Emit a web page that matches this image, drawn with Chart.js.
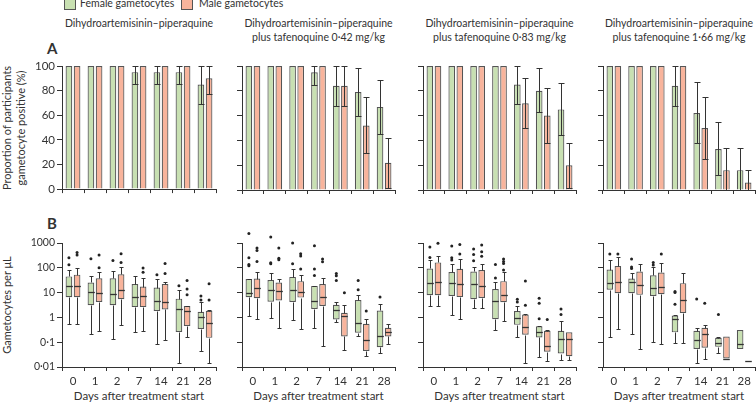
<!DOCTYPE html>
<html>
<head>
<meta charset="utf-8">
<script src="https://cdn.jsdelivr.net/npm/chart.js@4.4.0/dist/chart.umd.min.js"></script>
<style>
  body { margin: 0; width: 756px; height: 403px; overflow: hidden; position: relative; background: #fff; font-family: Lato, sans-serif; color: #333; }
  .pane { position: absolute; }
  .txt { position: absolute; white-space: nowrap; font-size: 10.5px; line-height: 13.5px; text-align: center; }
  .rot { position: absolute; white-space: nowrap; font-size: 11px; line-height: 14px; text-align: center; transform: translate(-50%, -50%) rotate(-90deg); }
  .sw { position: absolute; width: 10px; height: 10px; border: 1px solid #555; }
  .lab { position: absolute; font-weight: bold; font-size: 15px; }
</style>
</head>
<body>

<div class="sw" style="left:64px;top:-2px;background:#c8e0b2"></div>
<div class="txt" style="left:80px;top:-3px;font-size:10.5px;text-align:left">Female gametocytes</div>
<div class="sw" style="left:181px;top:-2px;background:#f8b49c"></div>
<div class="txt" style="left:199px;top:-3px;font-size:10.5px;text-align:left">Male gametocytes</div>

<div class="lab" style="left:47px;top:39px">A</div>
<div class="lab" style="left:47px;top:214px">B</div>

<div class="rot" style="left:14px;top:128px">Proportion of participants<br>gametocyte positive (%)</div>
<div class="rot" style="left:7px;top:305px">Gametocytes per μL</div>

<div id="titles"></div>
<div id="panes"></div>

<script>
// categories and tick labels
const days = ['0', '1', '2', '7', '14', '21', '28'];
const pctTicks = [0, 20, 40, 60, 80, 100];
const logTicks = [0.01, 0.1, 1, 10, 100, 1000];
const logTickText = ['0·01', '0·1', '1', '10', '100', '1000'];
const panelTitles = [
  ['Dihydroartemisinin–piperaquine'],
  ['Dihydroartemisinin–piperaquine', 'plus tafenoquine 0·42 mg/kg'],
  ['Dihydroartemisinin–piperaquine', 'plus tafenoquine 0·83 mg/kg'],
  ['Dihydroartemisinin–piperaquine', 'plus tafenoquine 1·66 mg/kg']
];

// A: proportion positive (%) with 95% CI, one array per panel
const pctFemale1 = [100, 100, 100, 95, 95, 95, 85];
const loFemale1  = [null, null, null, 85, 85, 85, 69];
const hiFemale1  = [null, null, null, 100, 100, 100, 100];
const pctMale1   = [100, 100, 100, 100, 100, 100, 90];
const loMale1    = [null, null, null, null, null, null, 77];
const hiMale1    = [null, null, null, null, null, null, 100];

const pctFemale2 = [100, 100, 100, 95, 84, 79, 67];
const loFemale2  = [null, null, null, 85, 68, 60, 45];
const hiFemale2  = [null, null, null, 100, 100, 98, 89];
const pctMale2   = [100, 100, 100, 100, 84, 52, 22];
const loMale2    = [null, null, null, null, 68, 30, 2];
const hiMale2    = [null, null, null, null, 100, 75, 42];

const pctFemale3 = [100, 100, 100, 100, 85, 80, 65];
const loFemale3  = [null, null, null, null, 69, 63, 44];
const hiFemale3  = [null, null, null, null, 100, 98, 86];
const pctMale3   = [100, 100, 100, 100, 70, 60, 20];
const loMale3    = [null, null, null, null, 50, 38, 2];
const hiMale3    = [null, null, null, null, 90, 82, 38];

const pctFemale4 = [100, 100, 100, 84, 62, 33, 16];
const loFemale4  = [null, null, null, 68, 38, 12, 0];
const hiFemale4  = [null, null, null, 100, 87, 55, 34];
const pctMale4   = [100, 100, 100, 100, 50, 16, 6];
const loMale4    = [null, null, null, null, 25, 0, 0];
const hiMale4    = [null, null, null, null, 75, 34, 16];

// B: gametocytes per uL, [min, q1, median, q3, max] per day, plus outliers
const boxFemale1 = [[0.55, 6.5, 18.6, 45, 78], [0.22, 3.1, 10.6, 25.6, 45], [0.13, 3.1, 8.6, 38, 76], [0.25, 2.6, 6.5, 22, 47], [0.083, 1.8, 4.6, 16, 37], [0.014, 0.26, 2.2, 5.7, 13], [0.046, 0.34, 1.07, 1.7, 4.2]];
const outFemale1 = [[132, 255], [230], [198], [], [52], [19], [5, 7.3]];
const boxMale1   = [[0.53, 6.5, 18, 53, 94], [0.28, 4.2, 9.4, 38, 69], [0.49, 5.4, 13, 55, 107], [0.29, 2.6, 7.6, 17.5, 38], [0.12, 2.1, 4.3, 22, 28], [0.155, 0.45, 1.8, 2.9, 3], [0.015, 0.15, 0.6, 1.85, 1.9]];
const outMale1   = [[326, 417], [100, 326], [165, 370], [66, 98], [59, 150], [8.1, 14, 31], [5, 23]];

const boxFemale2 = [[1.1, 6.5, 9.4, 35, 36], [0.92, 4.3, 12.4, 32, 63], [0.81, 4.2, 13, 43, 91], [0.39, 2.2, 4.8, 18.6, 19], [0.65, 0.83, 1.9, 3.2, 4.2], [0.17, 0.24, 0.59, 5, 7.8], [0.038, 0.063, 0.17, 1.9, 3.6]];
const outFemale2 = [[120, 137, 255, 2400], [145, 158, 1750], [145, 1000], [49, 89, 780], [31, 48, 59], [13, 31], [6.6]];
const boxMale2   = [[0.83, 5.9, 16, 37, 67], [0.39, 4.8, 11.2, 25.6, 34], [0.35, 6.3, 10.6, 29, 53], [0.072, 2.9, 6.9, 22, 38], [0.049, 0.17, 1.13, 1.55, 3.2], [0.027, 0.044, 0.12, 0.55, 0.85], [0.081, 0.17, 0.26, 0.38, 0.52]];
const outMale2   = [[180, 500, 630], [210, 240, 630], [89, 300, 370], [174, 224], [9.8], [1.8], []];

const boxFemale3 = [[2.9, 7.8, 24, 94, 200], [1.3, 7.3, 25.5, 67, 137], [2.5, 5.4, 22, 71, 107], [0.31, 0.85, 4.8, 14, 25.6], [0.16, 0.5, 0.91, 1.8, 2.8], [0.026, 0.155, 0.26, 0.44, 0.46], [0.02, 0.035, 0.13, 0.29, 0.69]];
const outFemale3 = [[262, 690], [205, 255, 750], [192, 340, 575], [39, 137], [4.2, 5.4], [0.89, 3.7, 5.9], [1.3, 2.2]];
const boxMale3   = [[2.95, 7.8, 26, 165, 290], [0.89, 6.6, 22, 91, 218], [2.3, 6.1, 18.6, 81, 137], [0.72, 4.1, 7.8, 29, 65], [0.0145, 0.2, 0.41, 1.3, 1.4], [0.018, 0.041, 0.073, 0.29, 0.32], [0.019, 0.027, 0.14, 0.25, 0.25]];
const outMale3   = [[970], [356, 880], [295, 445, 830], [81, 150, 181, 224], [3.1, 29.5], [0.83], []];

const boxFemale4 = [[0.16, 13, 25.5, 85, 210], [0.22, 9.4, 26, 37, 63], [0.1, 7.3, 16, 50, 107], [0.089, 0.25, 0.85, 1.2, 1.3], [0.014, 0.053, 0.12, 0.29, 0.38], [0.038, 0.065, 0.089, 0.15, 0.155], [0.053, 0.053, 0.081, 0.31, 0.31]];
const outFemale4 = [[356], [94, 107, 224], [130, 165], [3.4, 10, 11], [5.5], [1.3], []];
const boxMale4   = [[0.35, 9.4, 27, 117, 262], [0.054, 8.1, 20, 71, 141], [0.081, 8.6, 17.5, 65, 150], [0.093, 1.5, 4.9, 24, 61], [0.022, 0.06, 0.22, 0.38, 0.5], [0.022, 0.022, 0.022, 0.17, 0.17], [0.017, 0.017, 0.017, 0.017, 0.017]];
const outMale4   = [[356], [], [356], [], [3.7], [], []];

const topPanels = [
  [pctFemale1, loFemale1, hiFemale1, pctMale1, loMale1, hiMale1],
  [pctFemale2, loFemale2, hiFemale2, pctMale2, loMale2, hiMale2],
  [pctFemale3, loFemale3, hiFemale3, pctMale3, loMale3, hiMale3],
  [pctFemale4, loFemale4, hiFemale4, pctMale4, loMale4, hiMale4]
];
const bottomPanels = [
  [boxFemale1, outFemale1, boxMale1, outMale1],
  [boxFemale2, outFemale2, boxMale2, outMale2],
  [boxFemale3, outFemale3, boxMale3, outMale3],
  [boxFemale4, outFemale4, boxMale4, outMale4]
];

const GREEN = '#c8e0b2', SALMON = '#f8b49c', EDGE = '#555', INK = '#333';

// pane geometry
const paneLeft = [0, 212, 393, 573];
const paneWidth = [219, 187, 186, 183];
const axisWidth = [62, 30, 30, 30];
const padRight = [3, 4, 3, 1];

Chart.defaults.font.family = 'Lato';
Chart.defaults.color = INK;
Chart.defaults.animation = false;

const errorBars = {
  id: 'errorBars',
  afterDatasetsDraw(chart) {
    const ctx = chart.ctx, y = chart.scales.y;
    chart.data.datasets.forEach((ds, d) => {
      chart.getDatasetMeta(d).data.forEach((bar, i) => {
        if (ds.lo[i] == null) return;
        const t = Math.round(y.getPixelForValue(ds.hi[i])) + 0.5;
        const b = Math.round(y.getPixelForValue(ds.lo[i])) + 0.5;
        const x = Math.round(bar.x) + 0.5;
        ctx.save();
        ctx.strokeStyle = INK;
        ctx.lineWidth = 1;
        ctx.beginPath();
        ctx.moveTo(x, t); ctx.lineTo(x, b);
        ctx.moveTo(x - 3, t); ctx.lineTo(x + 3, t);
        ctx.moveTo(x - 3, b); ctx.lineTo(x + 3, b);
        ctx.stroke();
        ctx.restore();
      });
    });
  }
};

const whiskers = {
  id: 'whiskers',
  afterDatasetsDraw(chart) {
    const ctx = chart.ctx, y = chart.scales.y;
    chart.data.datasets.forEach((ds, d) => {
      chart.getDatasetMeta(d).data.forEach((bar, i) => {
        const s = ds.stats[i];
        const x = Math.round(bar.x) + 0.5, hw = bar.width / 2, cw = bar.width * 0.3;
        const py = v => Math.round(y.getPixelForValue(v)) + 0.5;
        ctx.save();
        ctx.strokeStyle = INK;
        ctx.lineWidth = 1;
        ctx.beginPath();
        if (s[4] > s[3]) { ctx.moveTo(x, py(s[3])); ctx.lineTo(x, py(s[4])); ctx.moveTo(x - cw, py(s[4])); ctx.lineTo(x + cw, py(s[4])); }
        if (s[0] < s[1]) { ctx.moveTo(x, py(s[1])); ctx.lineTo(x, py(s[0])); ctx.moveTo(x - cw, py(s[0])); ctx.lineTo(x + cw, py(s[0])); }
        ctx.stroke();
        ctx.lineWidth = 1.3;
        ctx.beginPath();
        ctx.moveTo(x - hw, py(s[2])); ctx.lineTo(x + hw, py(s[2]));
        ctx.stroke();
        ctx.fillStyle = '#222';
        ds.outliers[i].forEach(v => {
          ctx.beginPath();
          ctx.arc(bar.x, y.getPixelForValue(v), 1.5, 0, Math.PI * 2);
          ctx.fill();
        });
        ctx.restore();
      });
    });
  }
};

function pane(left, top, width, height) {
  const div = document.createElement('div');
  div.className = 'pane';
  div.style.cssText = `left:${left}px;top:${top}px;width:${width}px;height:${height}px`;
  const c = document.createElement('canvas');
  div.appendChild(c);
  document.getElementById('panes').appendChild(div);
  return c;
}

function xAxis(showLabels, h) {
  return {
    type: 'category',
    offset: true,
    grid: { offset: true, drawOnChartArea: false, drawTicks: true, tickLength: 4, color: INK },
    border: { display: true, color: INK, width: 1 },
    ticks: { display: showLabels, font: { size: 11.5 }, color: INK, padding: 3, maxRotation: 0 },
    afterFit: s => { s.height = h; }
  };
}

function barOpts(p, yScale, xh, pt) {
  return {
    responsive: true,
    maintainAspectRatio: false,
    devicePixelRatio: 1,
    events: [],
    layout: { padding: { top: pt, right: padRight[p], left: 0, bottom: 0 } },
    plugins: { legend: { display: false }, tooltip: { enabled: false } },
    scales: { x: xAxis(xh > 10, xh), y: yScale }
  };
}

// titles
panelTitles.forEach((lines, p) => {
  const cx = paneLeft[p] + axisWidth[p] + (paneWidth[p] - axisWidth[p] - padRight[p]) / 2;
  const d = document.createElement('div');
  d.className = 'txt';
  d.style.cssText = `left:${cx}px;top:17px;transform:translateX(-50%)`;
  d.innerHTML = lines.join('<br>');
  document.getElementById('titles').appendChild(d);

  const xt = document.createElement('div');
  xt.className = 'txt';
  xt.style.cssText = `left:${cx}px;top:389px;transform:translateX(-50%);font-size:11.5px`;
  xt.textContent = 'Days after treatment start';
  document.getElementById('titles').appendChild(xt);
});

// A: bar charts with error bars
topPanels.forEach((arr, p) => {
  const [fv, flo, fhi, mv, mlo, mhi] = arr;
  const canvas = pane(paneLeft[p], 55, paneWidth[p], 143);
  new Chart(canvas, {
    type: 'bar',
    data: {
      labels: days,
      datasets: [
        { data: fv, lo: flo, hi: fhi, backgroundColor: GREEN, borderColor: EDGE, borderWidth: 1.2, categoryPercentage: 0.74, barPercentage: 0.82 },
        { data: mv, lo: mlo, hi: mhi, backgroundColor: SALMON, borderColor: EDGE, borderWidth: 1.2, categoryPercentage: 0.74, barPercentage: 0.82 }
      ]
    },
    options: barOpts(p, {
      min: 0, max: 100,
      grid: { drawOnChartArea: false, drawTicks: true, tickLength: 5, color: INK },
      border: { display: true, color: INK, width: 1 },
      ticks: { display: p === 0, stepSize: 20, font: { size: 11.5 }, color: INK, padding: 2 },
      afterBuildTicks: s => { s.ticks = pctTicks.map(v => ({ value: v })); },
      afterFit: s => { s.width = axisWidth[p]; }
    }, 8, 11),
    plugins: [errorBars]
  });
});

// B: box plots on a log scale
bottomPanels.forEach((arr, p) => {
  const [fb, fo, mb, mo] = arr;
  const canvas = pane(paneLeft[p], 228, paneWidth[p], 175);
  new Chart(canvas, {
    type: 'bar',
    data: {
      labels: days,
      datasets: [
        { data: fb.map(s => [s[1], s[3]]), stats: fb, outliers: fo, backgroundColor: GREEN, borderColor: EDGE, borderWidth: 1.2, borderSkipped: false, categoryPercentage: 0.74, barPercentage: 0.82 },
        { data: mb.map(s => [s[1], s[3]]), stats: mb, outliers: mo, backgroundColor: SALMON, borderColor: EDGE, borderWidth: 1.2, borderSkipped: false, categoryPercentage: 0.74, barPercentage: 0.82 }
      ]
    },
    options: barOpts(p, {
      type: 'logarithmic',
      min: 0.01, max: 1000,
      grid: { drawOnChartArea: false, drawTicks: true, tickLength: 5, color: INK },
      border: { display: true, color: INK, width: 1 },
      ticks: {
        display: p === 0, font: { size: 10.5 }, color: INK, padding: 2,
        callback: v => logTickText[logTicks.indexOf(v)]
      },
      afterBuildTicks: s => { s.ticks = logTicks.map(v => ({ value: v })); },
      afterFit: s => { s.width = axisWidth[p]; }
    }, 36, 15),
    plugins: [whiskers]
  });
});
</script>
</body>
</html>
